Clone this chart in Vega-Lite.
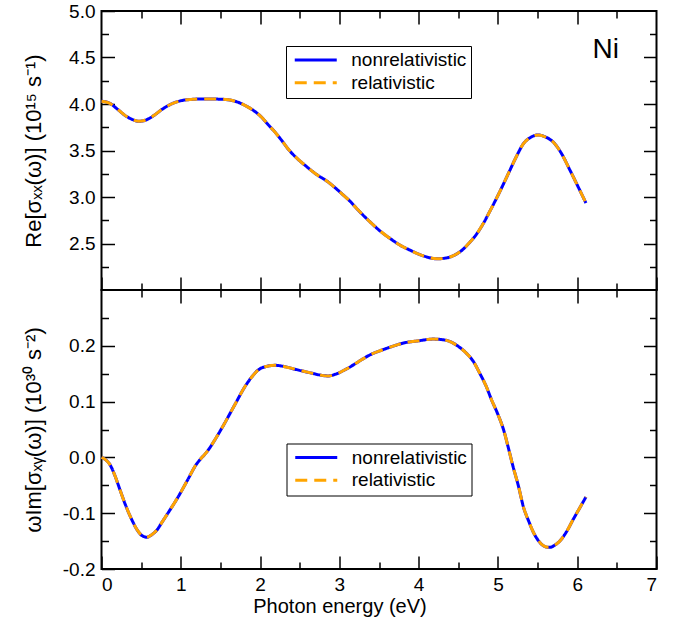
{
  "$schema": "https://vega.github.io/schema/vega-lite/v6.json",
  "background": "white",
  "padding": {"left": 21.5, "top": 1, "right": 5, "bottom": 5},
  "spacing": 0,
  "bounds": "flush",
  "config": {
    "font": "Liberation Sans",
    "view": {"stroke": "black", "strokeWidth": 2},
    "axis": {
      "grid": false, "domain": false, "tickColor": "black", "tickWidth": 1.5,
      "labelColor": "black", "titleColor": "black", "labelFontSize": 19, "titleFontSize": 22,
      "titleFontWeight": "normal", "labelFont": "Liberation Sans", "titleFont": "Liberation Sans"
    },
    "legend": {
      "orient": "none", "title": null, "strokeColor": "black", "fillColor": "white", "padding": 4.5,
      "symbolType": "M-4,0H4", "symbolSize": 110.25, "symbolStrokeWidth": 3, "symbolOffset": 15.75,
      "labelFontSize": 19, "labelColor": "black", "rowPadding": 2.7, "labelOffset": 26,
      "labelExpr": "datum.label + ' '",
      "labelFont": "Liberation Sans", "cornerRadius": 0
    }
  },
  "datasets": {
    "top": [
      {"E": 0.0, "v": 4.03}, {"E": 0.1, "v": 4.01}, {"E": 0.2, "v": 3.945}, {"E": 0.3, "v": 3.875},
      {"E": 0.4, "v": 3.83}, {"E": 0.47, "v": 3.814}, {"E": 0.55, "v": 3.825}, {"E": 0.65, "v": 3.87},
      {"E": 0.76, "v": 3.94}, {"E": 0.88, "v": 4.0}, {"E": 1.0, "v": 4.035}, {"E": 1.15, "v": 4.05},
      {"E": 1.3, "v": 4.055}, {"E": 1.45, "v": 4.053}, {"E": 1.6, "v": 4.045}, {"E": 1.72, "v": 4.02},
      {"E": 1.82, "v": 3.98}, {"E": 1.9, "v": 3.94}, {"E": 2.02, "v": 3.857}, {"E": 2.1, "v": 3.78},
      {"E": 2.19, "v": 3.696}, {"E": 2.28, "v": 3.6}, {"E": 2.36, "v": 3.51}, {"E": 2.46, "v": 3.42},
      {"E": 2.57, "v": 3.339}, {"E": 2.7, "v": 3.25}, {"E": 2.86, "v": 3.16}, {"E": 3.03, "v": 3.036},
      {"E": 3.14, "v": 2.95}, {"E": 3.24, "v": 2.857}, {"E": 3.39, "v": 2.73}, {"E": 3.52, "v": 2.63},
      {"E": 3.64, "v": 2.554}, {"E": 3.77, "v": 2.48}, {"E": 3.89, "v": 2.429}, {"E": 4.05, "v": 2.37},
      {"E": 4.23, "v": 2.335}, {"E": 4.35, "v": 2.345}, {"E": 4.44, "v": 2.37}, {"E": 4.55, "v": 2.43},
      {"E": 4.65, "v": 2.518}, {"E": 4.73, "v": 2.6}, {"E": 4.815, "v": 2.714}, {"E": 4.9, "v": 2.85},
      {"E": 4.98, "v": 2.982}, {"E": 5.07, "v": 3.14}, {"E": 5.15, "v": 3.286}, {"E": 5.23, "v": 3.43},
      {"E": 5.32, "v": 3.571}, {"E": 5.42, "v": 3.645}, {"E": 5.51, "v": 3.668}, {"E": 5.6, "v": 3.645},
      {"E": 5.7, "v": 3.589}, {"E": 5.8, "v": 3.47}, {"E": 5.91, "v": 3.286}, {"E": 6.0, "v": 3.13},
      {"E": 6.11, "v": 2.935}
    ],
    "bottom": [
      {"E": 0.0, "v": 0.0}, {"E": 0.05, "v": -0.004}, {"E": 0.107, "v": -0.013}, {"E": 0.17, "v": -0.033},
      {"E": 0.233, "v": -0.058}, {"E": 0.31, "v": -0.088}, {"E": 0.38, "v": -0.111}, {"E": 0.45, "v": -0.13},
      {"E": 0.51, "v": -0.14}, {"E": 0.57, "v": -0.143}, {"E": 0.64, "v": -0.138}, {"E": 0.7, "v": -0.13},
      {"E": 0.76, "v": -0.117}, {"E": 0.86, "v": -0.095}, {"E": 0.97, "v": -0.07}, {"E": 1.08, "v": -0.042},
      {"E": 1.18, "v": -0.016}, {"E": 1.35, "v": 0.014}, {"E": 1.52, "v": 0.053}, {"E": 1.68, "v": 0.094},
      {"E": 1.81, "v": 0.127}, {"E": 1.9, "v": 0.145}, {"E": 1.98, "v": 0.157}, {"E": 2.08, "v": 0.163},
      {"E": 2.19, "v": 0.165}, {"E": 2.3, "v": 0.163}, {"E": 2.44, "v": 0.158}, {"E": 2.65, "v": 0.151},
      {"E": 2.78, "v": 0.147}, {"E": 2.86, "v": 0.146}, {"E": 2.95, "v": 0.149}, {"E": 3.07, "v": 0.157},
      {"E": 3.18, "v": 0.166}, {"E": 3.28, "v": 0.175}, {"E": 3.39, "v": 0.184}, {"E": 3.53, "v": 0.192},
      {"E": 3.67, "v": 0.199}, {"E": 3.81, "v": 0.205}, {"E": 4.0, "v": 0.209}, {"E": 4.18, "v": 0.212},
      {"E": 4.3, "v": 0.211}, {"E": 4.39, "v": 0.208}, {"E": 4.5, "v": 0.199}, {"E": 4.6, "v": 0.187},
      {"E": 4.69, "v": 0.172}, {"E": 4.77, "v": 0.151}, {"E": 4.85, "v": 0.128}, {"E": 4.92, "v": 0.103},
      {"E": 5.0, "v": 0.077}, {"E": 5.07, "v": 0.05}, {"E": 5.13, "v": 0.018}, {"E": 5.19, "v": -0.016},
      {"E": 5.26, "v": -0.052}, {"E": 5.32, "v": -0.088}, {"E": 5.39, "v": -0.115}, {"E": 5.45, "v": -0.135},
      {"E": 5.51, "v": -0.149}, {"E": 5.57, "v": -0.158}, {"E": 5.63, "v": -0.161}, {"E": 5.66, "v": -0.161},
      {"E": 5.72, "v": -0.157}, {"E": 5.78, "v": -0.15}, {"E": 5.87, "v": -0.132}, {"E": 5.95, "v": -0.111},
      {"E": 6.03, "v": -0.091}, {"E": 6.11, "v": -0.071}
    ],
    "ni": [{"E": 6.36, "v": 4.5, "t": "Ni"}]
  },
  "resolve": {
    "scale": {"color": "independent", "strokeDash": "independent"},
    "legend": {"color": "independent", "strokeDash": "independent"}
  },
  "vconcat": [
    {
      "width": 555, "height": 279,
      "data": {"name": "top"},
      "layer": [
        {
          "mark": {"type": "line", "strokeWidth": 3, "interpolate": "monotone"},
          "encoding": {
            "x": {"field": "E", "type": "quantitative", "scale": {"domain": [0, 7], "nice": false, "zero": false},
              "axis": {"orient": "bottom", "values": [0, 0.5, 1, 1.5, 2, 2.5, 3, 3.5, 4, 4.5, 5, 5.5, 6, 6.5, 7],
                "labels": false, "title": null,
                "tickSize": {"condition": {"test": "abs(datum.value - round(datum.value)) < 1e-6", "value": -13}, "value": -7}}},
            "y": {"field": "v", "type": "quantitative", "scale": {"domain": [2, 5], "nice": false, "zero": false},
              "axis": {"orient": "left", "values": [2.25, 2.5, 2.75, 3, 3.25, 3.5, 3.75, 4, 4.25, 4.5, 4.75, 5],
                "labelExpr": "abs(datum.value*2 - round(datum.value*2)) < 1e-6 ? format(datum.value, '.1f') : ''",
                "labelPadding": 19.5,
                "tickSize": {"condition": {"test": "abs(datum.value*2 - round(datum.value*2)) < 1e-6", "value": -13}, "value": -7},
                "title": "Re[σₓₓ(ω)] (10¹⁵ s⁻¹)", "titleX": -68, "titleAngle": -90,
                "titleAlign": "center", "titleBaseline": "middle"}},
            "color": {"datum": "nonrelativistic", "type": "nominal",
              "scale": {"domain": ["nonrelativistic", "relativistic"], "range": ["#0000ff", "#ffa500"]},
              "legend": {"legendX": 184.5, "legendY": 35}},
            "strokeDash": {"datum": "nonrelativistic", "type": "nominal",
              "scale": {"domain": ["nonrelativistic", "relativistic"], "range": [[1, 0], [12, 7]]},
              "legend": {"legendX": 184.5, "legendY": 35}}
          }
        },
        {
          "mark": {"type": "line", "strokeWidth": 3, "interpolate": "monotone"},
          "encoding": {
            "x": {"field": "E", "type": "quantitative", "scale": {"domain": [0, 7], "nice": false, "zero": false},
              "axis": {"orient": "top", "values": [0.5, 1, 1.5, 2, 2.5, 3, 3.5, 4, 4.5, 5, 5.5, 6, 6.5],
                "labels": false, "title": null,
                "tickSize": {"condition": {"test": "abs(datum.value - round(datum.value)) < 1e-6", "value": -13}, "value": -7}}},
            "y": {"field": "v", "type": "quantitative", "scale": {"domain": [2, 5], "nice": false, "zero": false},
              "axis": {"orient": "right", "values": [2.25, 2.5, 2.75, 3, 3.25, 3.5, 3.75, 4, 4.25, 4.5, 4.75],
                "labels": false, "title": null,
                "tickSize": {"condition": {"test": "abs(datum.value*2 - round(datum.value*2)) < 1e-6", "value": -13}, "value": -7}}},
            "color": {"datum": "relativistic", "type": "nominal"},
            "strokeDash": {"datum": "relativistic", "type": "nominal"}
          }
        },
        {
          "data": {"name": "ni"},
          "mark": {"type": "text", "fontSize": 28, "align": "center", "baseline": "alphabetic", "color": "black", "font": "Liberation Sans"},
          "encoding": {
            "x": {"field": "E", "type": "quantitative", "axis": null},
            "y": {"field": "v", "type": "quantitative", "axis": null},
            "text": {"field": "t"}
          }
        }
      ],
      "resolve": {"axis": {"x": "independent", "y": "independent"}}
    },
    {
      "width": 555, "height": 279,
      "data": {"name": "bottom"},
      "layer": [
        {
          "mark": {"type": "line", "strokeWidth": 3, "interpolate": "monotone"},
          "encoding": {
            "x": {"field": "E", "type": "quantitative", "scale": {"domain": [0, 7], "nice": false, "zero": false},
              "axis": {"orient": "bottom", "values": [0, 0.5, 1, 1.5, 2, 2.5, 3, 3.5, 4, 4.5, 5, 5.5, 6, 6.5, 7],
                "labelExpr": "abs(datum.value - round(datum.value)) < 1e-6 ? format(datum.value, 'd') : ''",
                "labelPadding": 19, "labelBaseline": "top",
                "tickSize": {"condition": {"test": "abs(datum.value - round(datum.value)) < 1e-6", "value": -13}, "value": -7},
                "title": "Photon energy (eV)", "titleX": 238, "titleY": 43.5, "titleAlign": "center", "titleBaseline": "alphabetic", "titleFontSize": 20}},
            "y": {"field": "v", "type": "quantitative", "scale": {"domain": [-0.2, 0.3], "nice": false, "zero": false},
              "axis": {"orient": "left", "values": [-0.2, -0.15, -0.1, -0.05, 0, 0.05, 0.1, 0.15, 0.2, 0.25],
                "labelExpr": "abs(datum.value*10 - round(datum.value*10)) < 1e-6 ? (datum.value < -1e-9 ? '-' + format(-datum.value, '.1f') : format(abs(datum.value), '.1f')) : ''",
                "labelPadding": 19.5,
                "tickSize": {"condition": {"test": "abs(datum.value*10 - round(datum.value*10)) < 1e-6", "value": -13}, "value": -7},
                "title": "ωIm[σₓᵧ(ω)] (10³⁰ s⁻²)", "titleX": -68, "titleAngle": -90,
                "titleAlign": "center", "titleBaseline": "middle"}},
            "color": {"datum": "nonrelativistic", "type": "nominal",
              "scale": {"domain": ["nonrelativistic", "relativistic"], "range": ["#0000ff", "#ffa500"]},
              "legend": {"legendX": 185, "legendY": 153.5}},
            "strokeDash": {"datum": "nonrelativistic", "type": "nominal",
              "scale": {"domain": ["nonrelativistic", "relativistic"], "range": [[1, 0], [12, 7]]},
              "legend": {"legendX": 185, "legendY": 153.5}}
          }
        },
        {
          "mark": {"type": "line", "strokeWidth": 3, "interpolate": "monotone"},
          "encoding": {
            "x": {"field": "E", "type": "quantitative", "scale": {"domain": [0, 7], "nice": false, "zero": false},
              "axis": {"orient": "top", "values": [0.5, 1, 1.5, 2, 2.5, 3, 3.5, 4, 4.5, 5, 5.5, 6, 6.5],
                "labels": false, "title": null,
                "tickSize": {"condition": {"test": "abs(datum.value - round(datum.value)) < 1e-6", "value": -13}, "value": -7}}},
            "y": {"field": "v", "type": "quantitative", "scale": {"domain": [-0.2, 0.3], "nice": false, "zero": false},
              "axis": {"orient": "right", "values": [-0.15, -0.1, -0.05, 0, 0.05, 0.1, 0.15, 0.2, 0.25],
                "labels": false, "title": null,
                "tickSize": {"condition": {"test": "abs(datum.value*10 - round(datum.value*10)) < 1e-6", "value": -13}, "value": -7}}},
            "color": {"datum": "relativistic", "type": "nominal"},
            "strokeDash": {"datum": "relativistic", "type": "nominal"}
          }
        }
      ],
      "resolve": {"axis": {"x": "independent", "y": "independent"}}
    }
  ]
}
